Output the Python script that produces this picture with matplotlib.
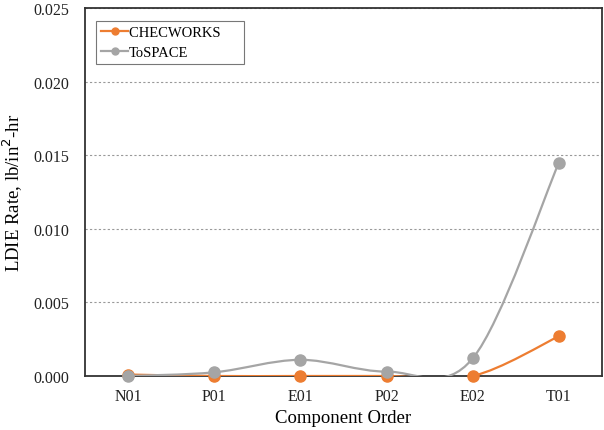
import matplotlib
matplotlib.use("Agg")
import matplotlib.pyplot as plt
from matplotlib.path import Path
from matplotlib.patches import PathPatch
from matplotlib.lines import Line2D
import numpy as np

plt.rcParams['font.family'] = ['Liberation Serif', 'DejaVu Serif']

# data
components = ['N01', 'P01', 'E01', 'P02', 'E02', 'T01']
checworks = [0.0001, 0.0, 0.0, 0.0, 0.0, 0.0027]
tospace = [0.0, 0.00025, 0.0011, 0.0003, 0.0012, 0.0145]

ORANGE = '#ED7D31'
GRAY = '#A5A5A5'


def smooth_path(xs, ys):
    # Excel-like smoothed line: cubic bezier, catmull-rom style tangents
    pts = np.column_stack([xs, ys]).astype(float)
    n = len(pts)
    verts = [pts[0]]
    codes = [Path.MOVETO]
    for i in range(n - 1):
        p0 = pts[i - 1] if i > 0 else pts[i]
        p1 = pts[i]
        p2 = pts[i + 1]
        p3 = pts[i + 2] if i + 2 < n else pts[i + 1]
        c1 = p1 + (p2 - p0) / 6.0
        c2 = p2 - (p3 - p1) / 6.0
        verts += [c1, c2, p2]
        codes += [Path.CURVE4] * 3
    return Path(verts, codes)


fig = plt.figure(figsize=(6.04, 4.31), dpi=100)
ax = fig.add_axes([0.1407, 0.1253, 0.856, 0.8538])

x = np.arange(len(components)) + 0.5

# orange series first, gray drawn over it (series order)
z = 3
for vals, col in [(checworks, ORANGE), (tospace, GRAY)]:
    patch = PathPatch(smooth_path(x, vals), facecolor='none', edgecolor=col,
                      lw=1.6, zorder=z)
    ax.add_patch(patch)
    ax.plot(x, vals, 'o', color=col, ms=8, zorder=z + 0.5, clip_on=False)
    z += 1

ax.set_xlim(0, len(components))
ax.set_ylim(0, 0.025)
ax.set_xticks(x)
ax.set_xticklabels(components)
ax.set_yticks(np.arange(0, 0.0251, 0.005))
ax.yaxis.set_major_formatter(matplotlib.ticker.FormatStrFormatter('%.3f'))
ax.tick_params(axis='both', length=0, labelsize=11.5, colors='#222222')
ax.tick_params(axis='y', pad=11)
ax.tick_params(axis='x', pad=9)

ax.grid(axis='y', linestyle=(0, (2, 2)), color='#999999', lw=0.8)
ax.set_axisbelow(True)
for sp in ax.spines.values():
    sp.set_color('#333333')
    sp.set_linewidth(1.3)

ax.set_xlabel('Component Order', fontsize=13.5, labelpad=3)
ax.set_ylabel('LDIE Rate, lb/in$^2$-hr', fontsize=13.5, labelpad=6)

handles = [Line2D([0], [0], color=ORANGE, lw=1.6, marker='o', ms=5),
           Line2D([0], [0], color=GRAY, lw=1.6, marker='o', ms=5)]
leg = ax.legend(handles, ['CHECWORKS     ', 'ToSPACE'], loc='upper left',
                bbox_to_anchor=(0.022, 0.965), fontsize=10.5, fancybox=False,
                framealpha=1, edgecolor='#777777', handlelength=1.8,
                handletextpad=0.1, borderpad=0.35, labelspacing=0.45,
                borderaxespad=0)
leg.get_frame().set_linewidth(0.8)

fig.savefig('out.png', dpi=100)
